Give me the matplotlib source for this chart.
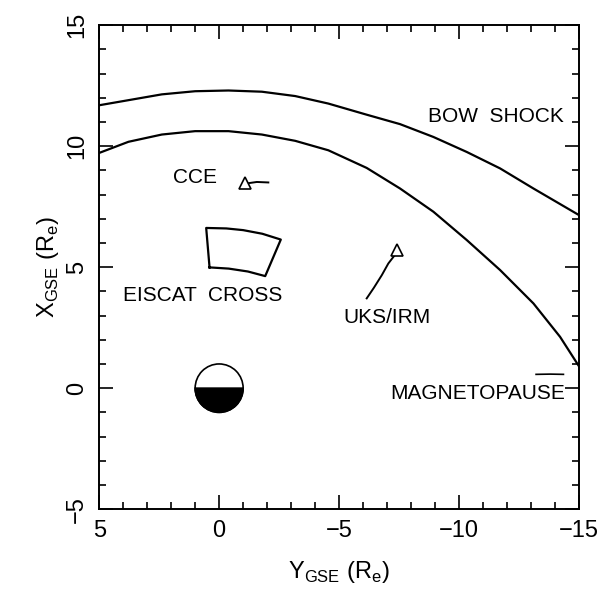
import numpy as np
import matplotlib.pyplot as plt
from matplotlib.patches import Circle, Wedge

plt.rcParams['font.family'] = ['Liberation Sans', 'DejaVu Sans']
plt.rcParams['mathtext.fontset'] = 'custom'
plt.rcParams['mathtext.rm'] = 'Liberation Sans'

# bow shock and magnetopause (Y_GSE, X_GSE) in Re
bow_y = [5, 3.78, 2.39, 1.0, -0.39, -1.78, -3.17, -4.55, -6.15, -7.54, -8.93,
         -10.32, -11.71, -13.10, -15]
bow_x = [11.69, 11.90, 12.14, 12.27, 12.30, 12.25, 12.07, 11.76, 11.30, 10.91, 10.38,
         9.76, 9.08, 8.25, 7.15]
mp_y = [5, 3.78, 2.39, 1.0, -0.39, -1.78, -3.17, -4.55, -6.15, -7.54, -8.93,
        -10.32, -11.71, -13.10, -14.21, -15]
mp_x = [9.72, 10.18, 10.48, 10.62, 10.62, 10.48, 10.22, 9.83, 9.10, 8.25, 7.29,
        6.12, 4.88, 3.50, 2.12, 0.90]

# spacecraft tracks
cce_y = [-1.08, -1.15, -1.57, -2.05]
cce_x = [8.46, 8.46, 8.52, 8.50]
uks_y = [-7.40, -7.05, -6.78, -6.45, -6.15]
uks_x = [5.6, 5.15, 4.67, 4.15, 3.71]
sc3_y = [-13.21, -13.8, -14.35]
sc3_x = [0.57, 0.58, 0.57]

# EISCAT cross field of view outline
eis_y = [0.40, 0.54, -0.3, -1.0, -1.8, -2.57, -1.92, -1.2, -0.4, 0.40]
eis_x = [4.99, 6.62, 6.60, 6.53, 6.38, 6.14, 4.63, 4.82, 4.94, 4.99]

fig = plt.figure(figsize=(6.16, 5.99), dpi=100)
ax = fig.add_axes([0.161, 0.150, 0.779, 0.808])

ax.plot(bow_y, bow_x, color='black', lw=1.6)
ax.plot(mp_y, mp_x, color='black', lw=1.6)
ax.plot(cce_y, cce_x, color='black', lw=1.4)
ax.plot(uks_y, uks_x, color='black', lw=1.4)
ax.plot(sc3_y, sc3_x, color='black', lw=1.2)
ax.plot(eis_y, eis_x, color='black', lw=1.6)
ax.plot(cce_y[0], cce_x[0], marker='^', ms=8, mfc='white', mec='black', mew=1.2)
ax.plot(-7.42, 5.72, marker='^', ms=9, mfc='white', mec='black', mew=1.2)

# earth, night side dark
ax.add_patch(Wedge((0, 0), 1, 180, 360, facecolor='black', edgecolor='black', lw=1.2))
ax.add_patch(Circle((0, 0), 1, facecolor='none', edgecolor='black', lw=1.2))

fs = 15
ax.text(-14.38, 11.24, 'BOW  SHOCK', fontsize=fs, ha='right', va='center')
ax.text(1.0, 8.7, 'CCE', fontsize=fs, ha='center', va='center')
ax.text(4.0, 3.84, 'EISCAT  CROSS', fontsize=fs, ha='left', va='center')
ax.text(-5.17, 2.93, 'UKS/IRM', fontsize=fs, ha='left', va='center')
ax.text(-14.42, -0.21, 'MAGNETOPAUSE', fontsize=fs, ha='right', va='center')

ax.set_xlim(5, -15)
ax.set_ylim(-5, 15)
ax.set_xticks([5, 0, -5, -10, -15])
ax.set_xticks(np.arange(-15, 6, 1), minor=True)
ax.set_yticks([-5, 0, 5, 10, 15])
ax.set_yticks(np.arange(-5, 16, 1), minor=True)
ax.tick_params(which='both', direction='in', top=True, right=True, width=1.2)
ax.tick_params(which='major', length=10, labelsize=17, pad=8)
ax.tick_params(which='minor', length=5)
plt.setp(ax.get_yticklabels(), rotation=90, va='center')
for s in ax.spines.values():
    s.set_linewidth(1.4)

ax.set_xlabel(r'Y$_{\rm GSE}$ (R$_{\rm e}$)', fontsize=17, labelpad=12)
ax.set_ylabel(r'X$_{\rm GSE}$ (R$_{\rm e}$)', fontsize=17, labelpad=4)

fig.savefig('out.png', dpi=100)
